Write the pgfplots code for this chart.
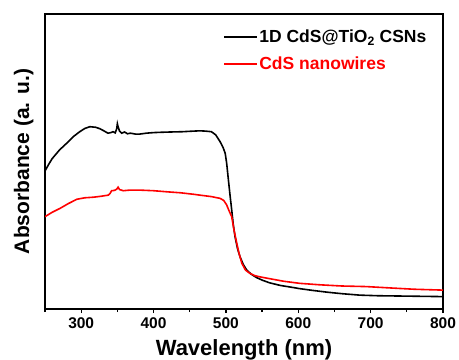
\documentclass[border=0pt]{standalone}
\usepackage{fontspec}
\setmainfont{Liberation Sans}
\usepackage{pgfplots}
\pgfplotsset{compat=1.18}
\begin{document}
\begin{tikzpicture}
\begin{axis}[
  scale only axis,
  width=398pt, height=295pt,
  xmin=250, xmax=800, ymin=0, ymax=1,
  axis line style={line width=1.5pt},
  xtick={300,400,500,600,700,800},
  minor xtick={250,350,450,550,650,750},
  xtick pos=bottom,
  xtick align=outside,
  major tick length=4pt, minor tick length=3pt,
  every tick/.style={line width=1.2pt, black},
  ytick=\empty,
  /pgf/number format/assume math mode=true,
  xticklabel style={font=\bfseries\fontsize{15.5}{16}\selectfont, yshift=-1pt},
  xlabel={\bfseries Wavelength (nm)},
  ylabel={\bfseries Absorbance (a. u.)},
  xlabel style={font=\bfseries\fontsize{22}{22}\selectfont, yshift=-4pt},
  ylabel style={font=\bfseries\fontsize{21}{21}\selectfont, yshift=8pt},
  legend style={draw=none, fill=none, at={(0.44,0.96)}, anchor=north west,
    font=\bfseries\fontsize{17.5}{17.5}\selectfont, row sep=9pt,
    legend cell align=left},
  legend image post style={xscale=1.9},
  legend entries={1D CdS@TiO\textsubscript{2} CSNs, \textcolor{red}{CdS nanowires}},
]
\addplot[black, line width=1.6pt] coordinates {
(250,0.468)(255,0.49)(260,0.51)(270,0.539)(280,0.562)(289,0.584)(298,0.601)(305,0.612)(312,0.618)(320,0.616)(326,0.611)(332,0.603)(337,0.596)(341,0.598)(344,0.601)(347,0.597)(349,0.610)(350,0.628)(351,0.618)(353,0.603)(356,0.596)(360,0.600)(364,0.594)(368,0.596)(375,0.593)(381,0.593)(390,0.596)(400,0.598)(410,0.599)(423,0.600)(440,0.601)(455,0.603)(464,0.604)(472,0.603)(480,0.601)(486,0.590)(492,0.567)(496,0.548)(499,0.528)(501,0.495)(503,0.448)(505.5,0.39)(508,0.336)(510,0.29)(512.6,0.245)(516,0.205)(519.5,0.177)(524,0.151)(528.7,0.132)(535,0.118)(542,0.107)(550,0.098)(560,0.089)(575,0.080)(590,0.074)(602,0.069)(620,0.063)(640,0.057)(660,0.052)(685,0.047)(710,0.045)(740,0.044)(770,0.043)(800,0.042)
};
\addplot[red, line width=1.6pt] coordinates {
(250,0.313)(260,0.328)(270.7,0.341)(282,0.357)(294,0.372)(305,0.377)(317,0.379)(327,0.382)(337.5,0.386)(340,0.392)(342,0.401)(346,0.402)(349,0.406)(351,0.413)(353,0.405)(358,0.401)(367,0.403)(381,0.403)(400,0.401)(420,0.397)(437,0.394)(455,0.389)(464,0.386)(480,0.381)(492,0.375)(497,0.368)(501,0.353)(504,0.335)(508,0.313)(511,0.27)(515,0.223)(518,0.19)(522,0.155)(527,0.132)(533,0.121)(540,0.113)(547,0.109)(560,0.103)(580,0.094)(602,0.087)(630,0.082)(660,0.078)(694,0.076)(730,0.071)(760,0.067)(800,0.064)
};
\coordinate (bl) at (rel axis cs:0,0);
\coordinate (tr) at (rel axis cs:1,1);
\end{axis}
\pgfresetboundingbox
\path[use as bounding box] ([shift={(-45pt,-50pt)}]bl) rectangle ([shift={(16pt,14pt)}]tr);
\end{tikzpicture}
\end{document}
